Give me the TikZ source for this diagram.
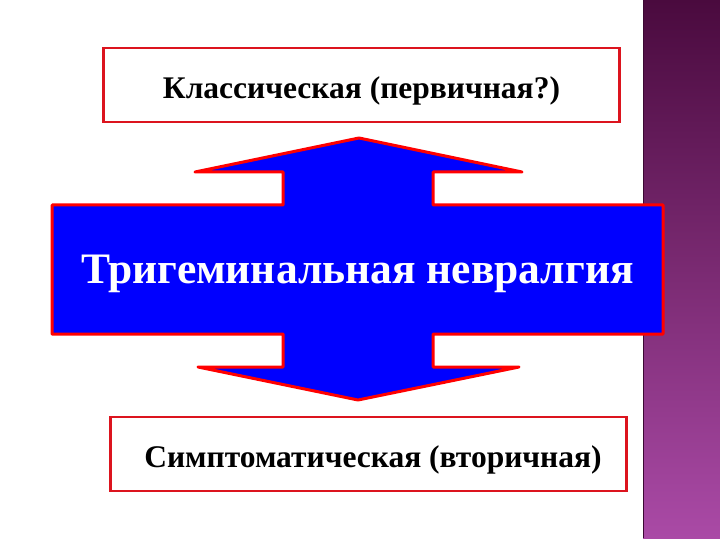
\documentclass[tikz,border=0pt]{standalone}
\usepackage{fontspec}
\setmainfont{Liberation Serif}
\usetikzlibrary{positioning}

\definecolor{stripTop}{RGB}{74,10,62}
\definecolor{stripBot}{RGB}{170,74,166}
\definecolor{boxRed}{RGB}{220,20,30}

\begin{document}
\begin{tikzpicture}[x=1pt, y=-1pt,
    box/.style={draw=boxRed, line width=2.2pt, fill=white, minimum width=516pt, minimum height=74pt,
        text height=34pt, text depth=7pt, font=\bfseries\fontsize{31.5}{36}\selectfont},
    bigarrow/.style={draw=red, fill=blue, line width=3pt, line join=round}]
    \useasboundingbox (0,0) rectangle (720,540);

    % side strip
    \shade[top color=stripTop, bottom color=stripBot] (643,0) rectangle (720,538);
    \draw[stripTop!80!black, line width=1.5pt] (643.5,0) -- (643.5,538);

    % double arrow with the main box
    \draw[bigarrow] (52,205) -- (283,205) -- (283,172) -- (195,172) -- (359,138) -- (522,172)
        -- (433,172) -- (433,205) -- (663,205) -- (663,334) -- (433,334) -- (433,367)
        -- (519,367) -- (358,400) -- (198,367) -- (283,367) -- (283,334) -- (52,334) -- cycle;

    \node[text=white, font=\bfseries\fontsize{43.5}{50}\selectfont] (tn) at (357.5,274) {Тригеминальная невралгия};
    \node[box] (cls) at (361.5,85) {Классическая (первичная?)};
    \node[box] (sym) at (368.5,454) {\hspace*{9pt}Симптоматическая (вторичная)};
\end{tikzpicture}
\end{document}
